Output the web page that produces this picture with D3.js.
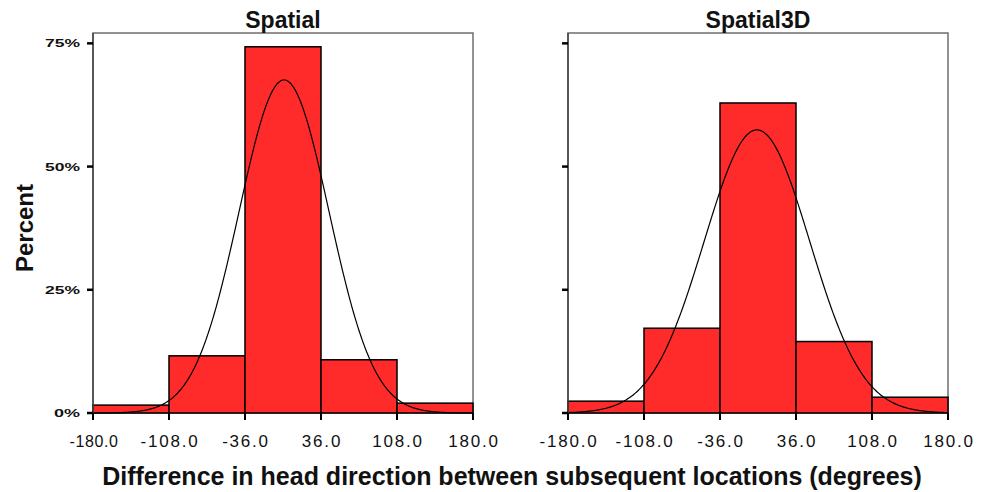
<!DOCTYPE html>
<html>
<head>
<meta charset="utf-8">
<script src="https://cdn.jsdelivr.net/npm/d3@7"></script>
<style>
  html, body { margin: 0; padding: 0; background: #fff; }
  svg { display: block; font-family: "Liberation Sans", Arial, sans-serif; }
</style>
</head>
<body>
<svg id="chart" width="988" height="492"></svg>
<script>
// Histogram bin edges (degrees) shared by both panels
const binEdges = [-180, -108, -36, 36, 108, 180];
const tickLabels = ["-180.0", "-108.0", "-36.0", "36.0", "108.0", "180.0"];
const yTicks = [0, 25, 50, 75];
const yTickLabels = ["0%", "25%", "50%", "75%"];

// Percent of transitions in each bin
const spatialPercent = [1.6, 11.6, 74.3, 10.8, 2.0];
const spatial3DPercent = [2.4, 17.2, 62.9, 14.5, 3.2];

// Fitted normal curve parameters (mean, standard deviation in degrees)
const spatialFit = [1, 42.5];
const spatial3DFit = [-1, 50];

const panelTitles = ["Spatial", "Spatial3D"];

const svg = d3.select("#chart");
const plotTop = 33, plotBottom = 413;
const panelRanges = [[93, 473], [568, 948]];

const y = d3.scaleLinear().domain([0, 77.1]).range([plotBottom, plotTop]);
const binWidth = binEdges[1] - binEdges[0];

function normalPct(v, mean, sd) {
  // density scaled to percent per bin
  return 100 * binWidth * Math.exp(-0.5 * ((v - mean) / sd) ** 2) / (sd * Math.sqrt(2 * Math.PI));
}

const panels = [
  { title: panelTitles[0], values: spatialPercent, fit: spatialFit, showYLabels: true },
  { title: panelTitles[1], values: spatial3DPercent, fit: spatial3DFit, showYLabels: false }
];

panels.forEach((p, i) => {
  const x = d3.scaleLinear().domain([binEdges[0], binEdges[binEdges.length - 1]]).range(panelRanges[i]);
  const g = svg.append("g");

  // frame
  g.append("rect")
    .attr("x", x.range()[0]).attr("y", plotTop)
    .attr("width", x.range()[1] - x.range()[0]).attr("height", plotBottom - plotTop)
    .attr("fill", "none").attr("stroke", "#6e6e6e").attr("stroke-width", 1.5);

  // bars
  const bins = p.values.map((v, k) => ({ x0: binEdges[k], x1: binEdges[k + 1], v }));
  g.selectAll("rect.bar").data(bins).join("rect")
    .attr("class", "bar")
    .attr("x", d => x(d.x0))
    .attr("y", d => y(d.v))
    .attr("width", d => x(d.x1) - x(d.x0))
    .attr("height", d => y(0) - y(d.v))
    .attr("fill", "#ff2b2b")
    .attr("stroke", "#000")
    .attr("stroke-width", 1.5);

  // fitted normal curve
  const pts = d3.range(binEdges[0], binEdges[binEdges.length - 1] + 0.5, 1);
  const line = d3.line()
    .x(v => x(v))
    .y(v => y(normalPct(v, p.fit[0], p.fit[1])))
    .curve(d3.curveBasis);
  g.append("path")
    .datum(pts)
    .attr("d", line)
    .attr("fill", "none")
    .attr("stroke", "#000")
    .attr("stroke-width", 1.2);

  // left axis line
  g.append("line")
    .attr("x1", x.range()[0]).attr("x2", x.range()[0])
    .attr("y1", plotTop).attr("y2", plotBottom)
    .attr("stroke", "#444").attr("stroke-width", 1.5);

  // y tick marks
  g.selectAll("line.ytick").data(yTicks).join("line")
    .attr("class", "ytick")
    .attr("x1", x.range()[0] - 6).attr("x2", x.range()[0])
    .attr("y1", d => y(d)).attr("y2", d => y(d))
    .attr("stroke", "#000").attr("stroke-width", 2.5);

  if (p.showYLabels) {
    g.selectAll("text.ylab").data(yTicks).join("text")
      .attr("class", "ylab")
      .attr("x", x.range()[0] - 13)
      .attr("y", d => y(d) + 4)
      .attr("text-anchor", "end")
      .attr("font-size", 11)
      .attr("font-weight", "bold")
      .attr("textLength", (d, k) => yTickLabels[k].length === 2 ? 26 : 35)
      .attr("lengthAdjust", "spacingAndGlyphs")
      .attr("fill", "#111")
      .text((d, k) => yTickLabels[k]);
  }

  // x tick marks
  g.selectAll("line.xtick").data(binEdges).join("line")
    .attr("class", "xtick")
    .attr("x1", d => x(d)).attr("x2", d => x(d))
    .attr("y1", plotBottom).attr("y2", plotBottom + 7)
    .attr("stroke", "#000").attr("stroke-width", 2);

  // x tick labels (first label of the left panel is squeezed against the edge)
  g.selectAll("text.xlab").data(binEdges).join("text")
    .attr("class", "xlab")
    .attr("x", d => x(d) + 1)
    .attr("y", 447)
    .attr("text-anchor", "middle")
    .attr("font-size", (d, k) => (i === 0 && k === 0) ? 16 : 17)
    .attr("letter-spacing", (d, k) => (i === 0 && k === 0) ? 0.6 : 1.8)
    .attr("fill", "#111")
    .text((d, k) => tickLabels[k]);

  // panel title
  g.append("text")
    .attr("x", (x.range()[0] + x.range()[1]) / 2)
    .attr("y", 28)
    .attr("text-anchor", "middle")
    .attr("font-size", 23)
    .attr("font-weight", "bold")
    .attr("fill", "#111")
    .text(p.title);
});

// y axis title
svg.append("text")
  .attr("transform", "translate(33,228) rotate(-90)")
  .attr("text-anchor", "middle")
  .attr("font-size", 24)
  .attr("font-weight", "bold")
  .attr("fill", "#111")
  .text("Percent");

// x axis title
svg.append("text")
  .attr("x", 512)
  .attr("y", 485)
  .attr("text-anchor", "middle")
  .attr("font-size", 25)
  .attr("font-weight", "bold")
  .attr("fill", "#111")
  .text("Difference in head direction between subsequent locations (degrees)");
</script>
</body>
</html>
